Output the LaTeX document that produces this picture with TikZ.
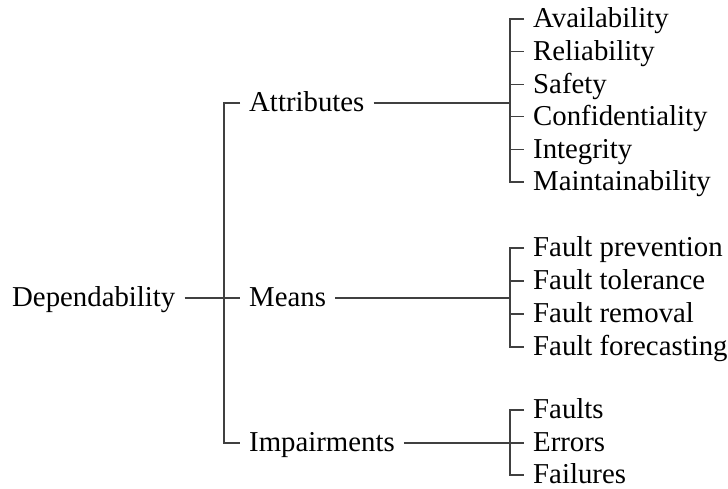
\documentclass[tikz,border=0pt]{standalone}
\usepackage{fontspec}
\setmainfont{Liberation Serif}
\begin{document}
\begin{tikzpicture}[x=1pt,y=-1pt,
  lbl/.style={anchor=west,inner xsep=9pt,inner ysep=0pt,text height=25pt,text depth=7.2pt,
    font=\fontsize{28.8}{32}\selectfont,text=black},
  conn/.style={draw=black!75,line width=1.2pt}]
\useasboundingbox (0,0) rectangle (728,489);
% root and level 1
\node[lbl] (dep) at (3,298) {Dependability};
\node[lbl] (att) at (240,103) {Attributes};
\node[lbl] (mea) at (240,298) {Means};
\node[lbl] (imp) at (240,443) {Impairments};
\coordinate (j0) at (224,298);
\draw[conn] (dep.east) -- (mea.west);
\draw[conn] (att.west) -| (imp.west -| j0) -- (imp.west);
% attributes
\coordinate (ja) at (510,103);
\draw[conn] (att.east) -- (ja);
\foreach \t/\y/\n in {Availability/19/a1,Reliability/51.6/a2,Safety/84.2/a3,Confidentiality/116.8/a4,Integrity/149.4/a5,Maintainability/182/a6}
  \node[lbl] (\n) at (524,\y) {\t};
\draw[conn] (a1.west) -| (a6.west -| ja) -- (a6.west);
\foreach \n in {a2,a3,a4,a5} \draw[conn] (\n.west -| ja) -- (\n.west);
% means
\coordinate (jm) at (510,298);
\draw[conn] (mea.east) -- (jm);
\foreach \t/\y/\n in {Fault prevention/248/m1,Fault tolerance/281/m2,Fault removal/314/m3,Fault forecasting/347/m4}
  \node[lbl] (\n) at (524,\y) {\t};
\draw[conn] (m1.west) -| (m4.west -| jm) -- (m4.west);
\foreach \n in {m2,m3} \draw[conn] (\n.west -| jm) -- (\n.west);
% impairments
\coordinate (ji) at (510,443);
\draw[conn] (imp.east) -- (ji);
\foreach \t/\y/\n in {Faults/410/i1,Errors/443/i2,Failures/475/i3}
  \node[lbl] (\n) at (524,\y) {\t};
\draw[conn] (i1.west) -| (i3.west -| ji) -- (i3.west);
\draw[conn] (i2.west -| ji) -- (i2.west);
\end{tikzpicture}
\end{document}
